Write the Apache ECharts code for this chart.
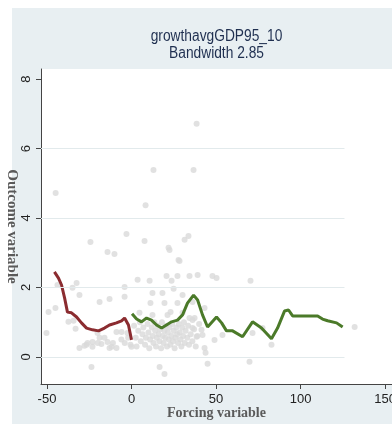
<!DOCTYPE html>
<html>
<head>
<meta charset="utf-8">
<script src="https://cdn.jsdelivr.net/npm/echarts@6/dist/echarts.min.js"></script>
<style>
html,body{margin:0;padding:0;background:#fff;}
#chart{width:392px;height:424px;}
</style>
</head>
<body>
<div id="chart"></div>
<script>
var titleLines = ['growthavgGDP95_10', 'Bandwidth 2.85'];
var xTitle = 'Forcing variable';
var yTitle = 'Outcome variable';
var xTicks = [-50, 0, 50, 100, 150];
var yTicks = [0, 2, 4, 6, 8];
var gridValues = [0, 2, 4, 6];

var scatterPts = [
  [-44.9,4.72],[13.0,5.38],[8.3,4.37],[-24.3,3.31],[-3.0,3.54],[7.7,3.34],[-14.2,3.02],[-10.1,2.96],
  [21.9,3.14],[31.4,3.37],[33.7,3.48],[38.5,6.71],[36.7,5.38],[27.8,2.79],
  [-43.8,2.07],[-32.5,2.13],[-34.9,1.99],[-30.8,1.78],[-4.1,2.01],[-4.1,1.73],[-18.9,1.58],[-13.0,1.67],
  [-49.1,1.29],[-45.0,1.41],[-50.3,0.69],[-23.7,-0.29],[-37.3,1.01],[-34.3,1.04],[-33.1,0.81],
  [-30.8,0.26],[-26.6,0.35],[-23.1,0.43],[-23.1,0.29],[-20.1,0.69],[-18.9,0.55],[-17.8,0.37],[-14.2,0.43],
  [-13.0,0.26],[-11.8,0.29],[-8.9,0.26],[-8.9,0.72],[-5.9,0.72],[-2.4,0.69],[-0.6,0.35],[0.0,0.29],
  [-27.8,0.32],[-26.0,0.40],
  [4.7,1.27],[12.4,1.21],[21.3,1.21],[23.1,1.29],[30.2,1.27],[34.3,1.12],[37.3,1.12],
  [11.2,1.55],[19.5,1.55],[27.2,1.55],[12.4,1.84],[18.3,1.84],[24.9,1.96],[30.2,1.78],
  [3.6,2.22],[10.7,2.19],[20.7,2.33],[23.7,2.19],[27.2,2.33],[34.3,2.33],[39.1,2.36],[47.9,2.33],
  [50.3,2.27],[70.4,2.19],[22.5,3.08],[28.4,2.76],
  [36.1,1.58],[43.2,1.41],[36.1,1.06],[36.1,0.83],[41.4,0.78],[38.5,0.58],[42.0,0.63],[49.1,0.49],
  [53.8,0.63],[43.2,0.26],[43.8,0.12],[45.0,-0.20],[69.8,-0.14],[71.6,0.69],[77.5,0.83],[82.8,0.35],
  [132.0,0.86],[16.6,-0.29],[19.5,-0.49],
  [1.5,0.9],[2.5,0.55],[3,0.3],[4,0.75],[5,1.0],[5.5,0.45],[6.5,0.65],[7,0.85],[8,0.35],[8.5,0.55],
  [9.5,0.95],[10,0.7],[10.5,0.25],[11,0.5],[12,0.85],[12.5,0.6],[13,0.4],[13.5,1.0],[14,0.75],[14.5,0.3],
  [15,0.55],[15.5,0.9],[16,0.65],[16.5,0.45],[17,0.8],[17.5,0.25],[18,1.0],[18.5,0.6],[19,0.4],[19.5,0.75],
  [20,0.55],[20.5,0.9],[21,0.3],[21.5,0.7],[22,0.5],[22.5,0.85],[23,0.35],[23.5,0.6],[24,0.95],[24.5,0.45],
  [25,0.75],[25.5,0.25],[26,0.55],[26.5,0.85],[27,0.65],[27.5,0.4],[28,0.95],[28.5,0.7],[29,0.5],[29.5,0.3],
  [30,0.85],[30.5,0.6],[31,1.0],[31.5,0.4],[32,0.75],[33,0.55],[33.5,0.9],[34,0.35],[35,0.65],[36,0.45],
  [37,0.8],[38,0.3],[39,0.6],[40,0.95],[-2,0.55],[-4,0.4],[-6,0.5],[-11,0.4],[-16,0.55],[-20,0.4]
];

var redLine = [
  [-45.6,2.45],[-43.2,2.27],[-41.4,2.07],[-39.6,1.70],[-37.9,1.29],[-35.5,1.27],[-32.5,1.15],[-29.6,0.98],
  [-26.6,0.83],[-23.1,0.78],[-19.5,0.75],[-16.0,0.83],[-13.0,0.92],[-8.9,0.98],[-5.9,1.04],[-4.1,1.12],
  [-3.0,1.09],[-1.8,0.92],[0.0,0.49]
];

var greenLine = [
  [0.3,1.24],[3.0,1.09],[5.9,1.01],[8.9,1.12],[11.8,1.06],[14.8,0.92],[17.8,0.83],[20.7,0.92],[23.7,1.01],
  [27.2,1.06],[30.2,1.21],[33.1,1.55],[36.7,1.78],[39.1,1.64],[42.0,1.21],[45.0,0.86],[50.3,1.15],[53.3,0.98],
  [56.2,0.75],[59.8,0.75],[65.7,0.58],[71.6,1.01],[76.9,0.83],[82.8,0.52],[86.4,0.83],[90.5,1.32],[92.9,1.35],
  [95.3,1.18],[110.1,1.18],[113.0,1.09],[116.0,1.04],[121.3,0.98],[124.9,0.86]
];

var xMin = -53.55, xMax = 154.1, yMin = -0.78, yMax = 8.29, gridEndX = 126;

var chart = echarts.init(document.getElementById('chart'), null, {renderer: 'canvas'});
var narrow = '"Liberation Sans Narrow", "Arial Narrow", "Liberation Sans", Arial, sans-serif';
var serif = '"Liberation Serif", "Times New Roman", serif';

chart.setOption({
  backgroundColor: '#e8eff2',
  animation: false,
  graphic: [
    {type: 'rect', z: -1, shape: {x: 0, y: 0, width: 392, height: 8}, style: {fill: '#ffffff'}},
    {type: 'rect', z: -1, shape: {x: 0, y: 0, width: 12, height: 424}, style: {fill: '#ffffff'}},
    {type: 'text', x: 216.5, y: 37, scaleX: 0.86, style: {text: titleLines[0], font: '16px ' + narrow, fill: '#1f2f50', textAlign: 'center', textVerticalAlign: 'middle'}},
    {type: 'text', x: 216.5, y: 54, scaleX: 0.86, style: {text: titleLines[1], font: '16px ' + narrow, fill: '#1f2f50', textAlign: 'center', textVerticalAlign: 'middle'}}
  ],
  grid: {left: 41, right: 0, top: 69, bottom: 40, show: true, backgroundColor: '#ffffff', borderWidth: 0, containLabel: false, outerBoundsMode: 'none'},
  xAxis: {
    type: 'value', min: xMin, max: xMax,
    axisLine: {show: true, onZero: false, lineStyle: {color: '#444', width: 1}},
    axisTick: {show: true, customValues: xTicks, length: 5, lineStyle: {color: '#444'}},
    axisLabel: {customValues: xTicks, color: '#222', fontFamily: narrow, fontSize: 13, margin: 9},
    splitLine: {show: false},
    name: xTitle, nameLocation: 'middle', nameGap: 22, nameMoveOverlap: false,
    nameTextStyle: {fontFamily: serif, fontWeight: 'bold', fontSize: 14, color: '#5a5a5a'}
  },
  yAxis: {
    type: 'value', min: yMin, max: yMax,
    axisLine: {show: true, onZero: false, lineStyle: {color: '#444', width: 1}},
    axisTick: {show: true, customValues: yTicks, length: 5, lineStyle: {color: '#444'}},
    axisLabel: {customValues: yTicks, rotate: 90, color: '#222', fontFamily: narrow, fontSize: 13, margin: 8},
    splitLine: {show: false},
    name: yTitle, nameLocation: 'middle', nameGap: 22, nameRotate: -90, nameMoveOverlap: false,
    nameTextStyle: {fontFamily: serif, fontWeight: 'bold', fontSize: 15, color: '#5a5a5a'}
  },
  series: [
    {
      type: 'line', data: [], z: 1, silent: true,
      markLine: {
        silent: true, symbol: 'none', animation: false,
        label: {show: false},
        lineStyle: {color: '#e2eaec', width: 1, type: 'solid'},
        data: gridValues.map(function (v) { return [{coord: [xMin, v]}, {coord: [gridEndX, v]}]; })
      }
    },
    {type: 'scatter', data: scatterPts, symbolSize: 6, z: 2, itemStyle: {color: '#d9d9d9'}},
    {type: 'line', data: redLine, showSymbol: false, z: 3, lineStyle: {color: '#8b2c30', width: 3}, itemStyle: {color: '#8b2c30'}},
    {type: 'line', data: greenLine, showSymbol: false, z: 3, lineStyle: {color: '#4b7a29', width: 3}, itemStyle: {color: '#4b7a29'}}
  ]
});
</script>
</body>
</html>
